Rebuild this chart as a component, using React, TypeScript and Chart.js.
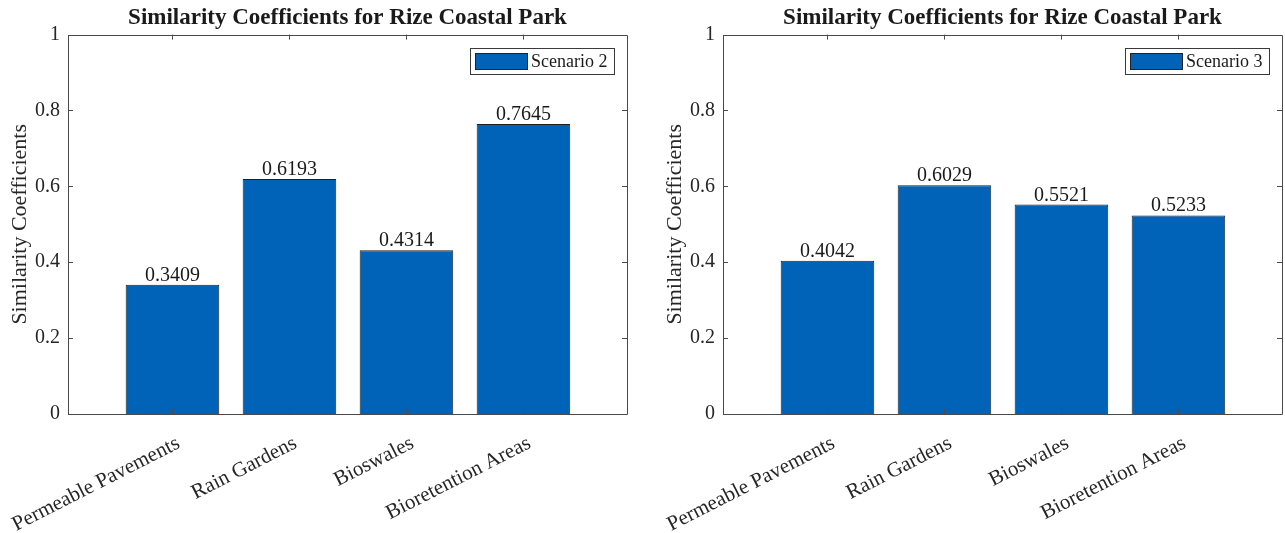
import React, { useEffect, useRef } from 'react';
import { Chart, registerables } from 'chart.js';

Chart.register(...registerables);

const categories = ['Permeable Pavements', 'Rain Gardens', 'Bioswales', 'Bioretention Areas'];
const categoryPositions = [1, 2, 3, 4];
const scenario2Values = [0.3409, 0.6193, 0.4314, 0.7645];
const scenario3Values = [0.4042, 0.6029, 0.5521, 0.5233];
const yTickValues = [0, 0.2, 0.4, 0.6, 0.8, 1];
const chartTitle = 'Similarity Coefficients for Rize Coastal Park';
const yAxisLabel = 'Similarity Coefficients';
const seriesNames = ['Scenario 2', 'Scenario 3'];

const FONT = "'Liberation Serif', 'Times New Roman', serif";
const BAR_COLOR = '#0063b7';
const TEXT_COLOR = '#262626';
const FRAME_COLOR = '#4a4a4a';

const framePlugin = {
  id: 'matlabFrame',
  afterDatasetsDraw(chart: any) {
    const { ctx, chartArea, scales } = chart;
    const { left, right, top, bottom } = chartArea;
    ctx.save();
    ctx.strokeStyle = FRAME_COLOR;
    ctx.lineWidth = 1;
    ctx.beginPath();
    ctx.rect(Math.round(left) + 0.5, Math.round(top) + 0.5, Math.round(right - left), Math.round(bottom - top));
    ctx.stroke();
    const tl = 5;
    ctx.beginPath();
    categoryPositions.forEach((p) => {
      const x = Math.round(scales.x.getPixelForValue(p)) + 0.5;
      ctx.moveTo(x, top);
      ctx.lineTo(x, top + tl);
      ctx.moveTo(x, bottom);
      ctx.lineTo(x, bottom - tl);
    });
    yTickValues.forEach((v) => {
      const y = Math.round(scales.y.getPixelForValue(v)) + 0.5;
      ctx.moveTo(left, y);
      ctx.lineTo(left + tl, y);
      ctx.moveTo(right, y);
      ctx.lineTo(right - tl, y);
    });
    ctx.stroke();
    ctx.restore();
  },
};

const valueLabelPlugin = {
  id: 'valueLabels',
  afterDatasetsDraw(chart: any) {
    const { ctx } = chart;
    const meta = chart.getDatasetMeta(0);
    const ds = chart.data.datasets[0];
    ctx.save();
    ctx.font = `20px ${FONT}`;
    ctx.fillStyle = '#1a1a1a';
    ctx.textAlign = 'center';
    ctx.textBaseline = 'alphabetic';
    meta.data.forEach((el: any, i: number) => {
      const v = ds.data[i].y;
      ctx.fillText(v.toFixed(4), el.x, el.y - 4);
    });
    ctx.restore();
  },
};

const legendBoxPlugin = {
  id: 'legendBox',
  afterDraw(chart: any) {
    const { ctx, chartArea } = chart;
    const label = chart.data.datasets[0].label;
    ctx.save();
    ctx.font = `18px ${FONT}`;
    const tw = ctx.measureText(label).width;
    const w = 5 + 52 + 4 + tw + 7;
    const h = 26;
    const x = Math.round(chartArea.right - 13 - w);
    const y = Math.round(chartArea.top + 13);
    ctx.fillStyle = '#ffffff';
    ctx.fillRect(x, y, w, h);
    ctx.strokeStyle = '#3a3a3a';
    ctx.lineWidth = 1;
    ctx.strokeRect(x + 0.5, y + 0.5, Math.round(w), h);
    ctx.fillStyle = BAR_COLOR;
    ctx.fillRect(x + 5, y + 5, 52, 16);
    ctx.strokeStyle = '#222';
    ctx.strokeRect(x + 5.5, y + 5.5, 52, 16);
    ctx.fillStyle = '#1a1a1a';
    ctx.textAlign = 'left';
    ctx.textBaseline = 'middle';
    ctx.fillText(label, x + 5 + 52 + 4, y + h / 2 + 1);
    ctx.restore();
  },
};

function BarPanel({ values, name, width, padLeft, padRight, yWidth }: any) {
  const ref = useRef<HTMLCanvasElement>(null);
  useEffect(() => {
    if (!ref.current) return;
    const chart = new Chart(ref.current, {
      type: 'bar',
      data: {
        datasets: [
          {
            label: name,
            data: categoryPositions.map((p, i) => ({ x: p, y: values[i] })),
            backgroundColor: BAR_COLOR,
            borderColor: '#1f1f1f',
            borderWidth: 1,
            barPercentage: 0.8,
            categoryPercentage: 1,
          },
        ],
      },
      options: {
        responsive: false,
        animation: false,
        layout: { padding: { left: padLeft, right: padRight, top: 0, bottom: 0 } },
        plugins: {
          legend: { display: false },
          tooltip: { enabled: false },
          title: {
            display: true,
            text: chartTitle,
            fullSize: false,
            color: '#1a1a1a',
            font: { family: FONT, size: 23, weight: 'bold' },
            padding: { top: 4, bottom: 3 },
          },
        },
        scales: {
          x: {
            type: 'linear',
            offset: false,
            min: 0.107,
            max: 4.885,
            grid: { display: false, drawTicks: false, offset: false },
            border: { display: false },
            afterBuildTicks: (scale: any) => {
              scale.ticks = categoryPositions.map((v) => ({ value: v }));
            },
            afterFit: (scale: any) => {
              scale.height = 119;
              scale.paddingLeft = 0;
              scale.paddingRight = 0;
            },
            ticks: {
              autoSkip: false,
              minRotation: 27,
              maxRotation: 27,
              padding: 17,
              labelOffset: 6,
              color: TEXT_COLOR,
              font: { family: FONT, size: 21 },
              callback: (v: any) => categories[categoryPositions.indexOf(Number(v))] ?? '',
            },
          },
          y: {
            min: 0,
            max: 1,
            grid: { display: false, drawTicks: false },
            border: { display: false },
            afterBuildTicks: (scale: any) => {
              scale.ticks = yTickValues.map((v) => ({ value: v }));
            },
            afterFit: (scale: any) => {
              scale.width = yWidth;
            },
            ticks: {
              padding: 8,
              color: TEXT_COLOR,
              font: { family: FONT, size: 20 },
              callback: (v: any) => String(Number(v)),
            },
            title: {
              display: true,
              text: yAxisLabel,
              color: TEXT_COLOR,
              font: { family: FONT, size: 22 },
              padding: { top: 7, bottom: 0 },
            },
          },
        },
      },
      plugins: [framePlugin, valueLabelPlugin, legendBoxPlugin],
    } as any);
    return () => chart.destroy();
  }, []);
  return <canvas ref={ref} width={width} height={533} style={{ display: 'block' }} />;
}

export default function App() {
  return (
    <div style={{ position: 'absolute', left: 0, top: 0, width: 1285, height: 533, display: 'flex', background: '#fff' }}>
      <BarPanel values={scenario2Values} name={seriesNames[0]} width={640} padLeft={0} padRight={13} yWidth={68} />
      <BarPanel values={scenario3Values} name={seriesNames[1]} width={645} padLeft={15} padRight={3} yWidth={68} />
    </div>
  );
}
